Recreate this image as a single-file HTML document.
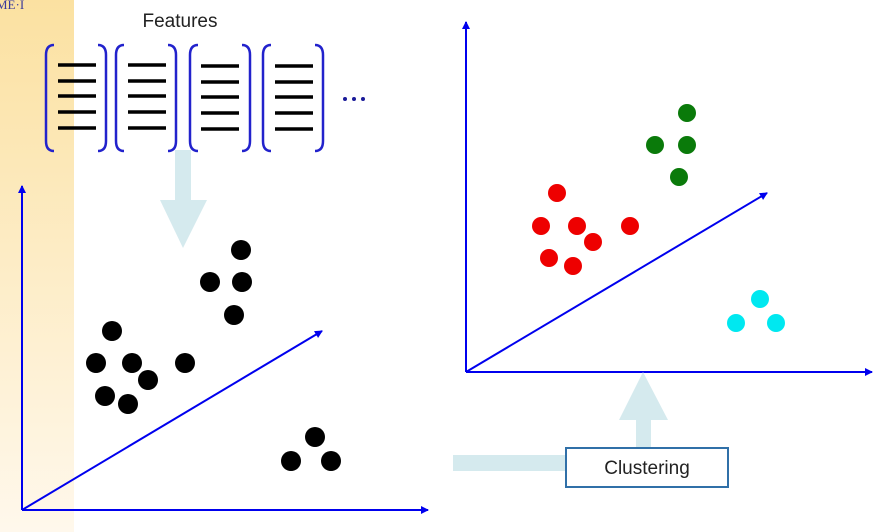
<!DOCTYPE html>
<html><head><style>
html,body{margin:0;padding:0;background:#fff;width:896px;height:532px;overflow:hidden}
</style></head><body>
<svg width="896" height="532" xmlns="http://www.w3.org/2000/svg" style="display:block">
<defs>
<linearGradient id="sb" x1="0" y1="0" x2="0" y2="1">
<stop offset="0" stop-color="#fbe1a1"/><stop offset="1" stop-color="#fff8ec"/>
</linearGradient>
<marker id="ah" markerWidth="8" markerHeight="8" refX="7" refY="4" orient="auto" markerUnits="userSpaceOnUse">
<path d="M0,0 L8,4 L0,8 Z" fill="#0000ee"/></marker>
</defs>
<rect x="0" y="0" width="74" height="532" fill="url(#sb)"/>
<text x="-4" y="9" font-family="Liberation Serif" font-size="13" fill="#3a3a9a">ME·I</text>
<text x="180" y="27" font-family="Liberation Sans" font-size="19" text-anchor="middle" fill="#222">Features</text>
<g fill="none" stroke="#2222cc" stroke-width="2.5">
<path d="M54,45 Q46,45 46,55 L46,141 Q46,151 54,151"/><path d="M98,45 Q106,45 106,55 L106,141 Q106,151 98,151"/>
<path d="M124,45 Q116,45 116,55 L116,141 Q116,151 124,151"/><path d="M168,45 Q176,45 176,55 L176,141 Q176,151 168,151"/>
<path d="M198,45 Q190,45 190,55 L190,141 Q190,151 198,151"/><path d="M242,45 Q250,45 250,55 L250,141 Q250,151 242,151"/>
<path d="M271,45 Q263,45 263,55 L263,141 Q263,151 271,151"/><path d="M315,45 Q323,45 323,55 L323,141 Q323,151 315,151"/>
</g>
<g stroke="#000" stroke-width="3.5">
<path d="M58,65H96M58,81H96M58,96H96M58,112H96M58,128H96"/>
<path d="M128,65H166M128,81H166M128,96H166M128,112H166M128,128H166"/>
<path d="M201,66H239M201,82H239M201,97H239M201,113H239M201,129H239"/>
<path d="M275,66H313M275,82H313M275,97H313M275,113H313M275,129H313"/>
</g>
<g fill="#1a1a99"><circle cx="345" cy="99" r="2"/><circle cx="354" cy="99" r="2"/><circle cx="363" cy="99" r="2"/></g>
<path d="M175,150H191V200H207L183,248L160,200H175Z" fill="#d5eaee"/>
<g stroke="#0000ee" stroke-width="2" fill="none">
<path d="M22,510V186" marker-end="url(#ah)"/><path d="M22,510H428" marker-end="url(#ah)"/><path d="M22,510L322,331" marker-end="url(#ah)"/>
<path d="M466,372V22" marker-end="url(#ah)"/><path d="M466,372H872" marker-end="url(#ah)"/><path d="M466,372L767,193" marker-end="url(#ah)"/>
</g>
<g fill="#000">
<circle cx="241" cy="250" r="10"/><circle cx="210" cy="282" r="10"/><circle cx="242" cy="282" r="10"/><circle cx="234" cy="315" r="10"/>
<circle cx="112" cy="331" r="10"/><circle cx="96" cy="363" r="10"/><circle cx="132" cy="363" r="10"/><circle cx="185" cy="363" r="10"/>
<circle cx="148" cy="380" r="10"/><circle cx="105" cy="396" r="10"/><circle cx="128" cy="404" r="10"/>
<circle cx="315" cy="437" r="10"/><circle cx="291" cy="461" r="10"/><circle cx="331" cy="461" r="10"/>
</g>
<g fill="#ee0000">
<circle cx="557" cy="193" r="9"/><circle cx="541" cy="226" r="9"/><circle cx="577" cy="226" r="9"/><circle cx="630" cy="226" r="9"/>
<circle cx="593" cy="242" r="9"/><circle cx="549" cy="258" r="9"/><circle cx="573" cy="266" r="9"/>
</g>
<g fill="#0a7a0a">
<circle cx="687" cy="113" r="9"/><circle cx="655" cy="145" r="9"/><circle cx="687" cy="145" r="9"/><circle cx="679" cy="177" r="9"/>
</g>
<g fill="#00e8f0">
<circle cx="760" cy="299" r="9"/><circle cx="736" cy="323" r="9"/><circle cx="776" cy="323" r="9"/>
</g>
<rect x="453" y="455" width="114" height="16" fill="#d5eaee"/>
<path d="M636,447V420H619L643,372L668,420H651V447Z" fill="#d5eaee"/>
<rect x="566" y="448" width="162" height="39" fill="#fff" stroke="#3070a8" stroke-width="2"/>
<text x="647" y="474" font-family="Liberation Sans" font-size="19" text-anchor="middle" fill="#222">Clustering</text>
</svg>
</body></html>
